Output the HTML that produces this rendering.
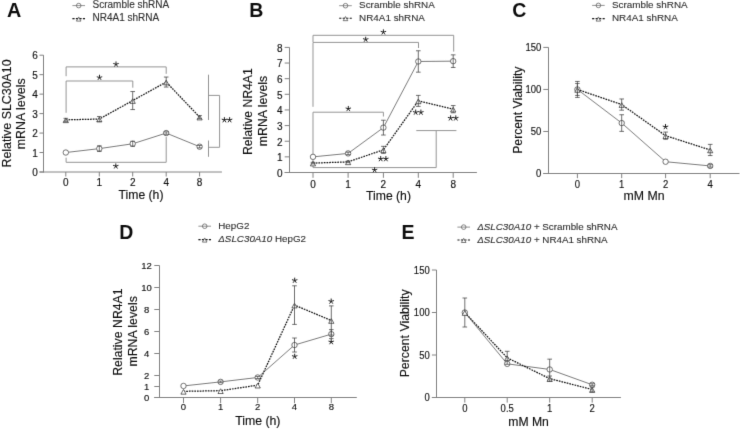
<!DOCTYPE html><html><head><meta charset="utf-8"><style>html,body{margin:0;padding:0;background:#fff;}svg{display:block;}</style></head><body><svg width="740" height="430" viewBox="0 0 740 430" font-family="Liberation Sans, sans-serif">
<defs><filter id="bl" x="-5%" y="-5%" width="110%" height="110%"><feConvolveMatrix order="3" kernelMatrix="0 1 0 1 8 1 0 1 0" preserveAlpha="false" edgeMode="none"/></filter></defs>
<rect width="740" height="430" fill="#fff"/>
<g filter="url(#bl)">
<text x="7.00" y="16.90" font-size="19.8" text-anchor="start" font-weight="bold" fill="#111"  >A</text>
<line x1="72.40" y1="5.60" x2="85.00" y2="5.60" stroke="#777" stroke-width="0.8" />
<circle cx="78.70" cy="5.60" r="2.3" fill="none" stroke="#666" stroke-width="0.8"/>
<line x1="72.40" y1="18.60" x2="85.00" y2="18.60" stroke="#141414" stroke-width="1.1" stroke-dasharray="2.2,1.3"/>
<polygon points="76.40,21.08 81.00,21.08 78.70,16.94" fill="none" stroke="#555" stroke-width="0.8"/>
<text x="92.50" y="8.20" font-size="10" text-anchor="start" font-weight="normal" fill="#303030" stroke="#303030" stroke-width="0.12" >Scramble shRNA</text>
<text x="92.50" y="21.20" font-size="10" text-anchor="start" font-weight="normal" fill="#303030" stroke="#303030" stroke-width="0.12" >NR4A1 shRNA</text>
<line x1="43.50" y1="55.20" x2="43.50" y2="172.50" stroke="#828282" stroke-width="1" />
<line x1="39.50" y1="172.00" x2="221.90" y2="172.00" stroke="#828282" stroke-width="1" />
<line x1="39.50" y1="172.00" x2="43.50" y2="172.00" stroke="#828282" stroke-width="1" />
<text x="37.90" y="176.00" font-size="10.0" text-anchor="end" font-weight="normal" fill="#0c0c0c" stroke="#0c0c0c" stroke-width="0.12" >0</text>
<line x1="39.50" y1="152.53" x2="43.50" y2="152.53" stroke="#828282" stroke-width="1" />
<text x="37.90" y="156.53" font-size="10.0" text-anchor="end" font-weight="normal" fill="#0c0c0c" stroke="#0c0c0c" stroke-width="0.12" >1</text>
<line x1="39.50" y1="133.07" x2="43.50" y2="133.07" stroke="#828282" stroke-width="1" />
<text x="37.90" y="137.07" font-size="10.0" text-anchor="end" font-weight="normal" fill="#0c0c0c" stroke="#0c0c0c" stroke-width="0.12" >2</text>
<line x1="39.50" y1="113.60" x2="43.50" y2="113.60" stroke="#828282" stroke-width="1" />
<text x="37.90" y="117.60" font-size="10.0" text-anchor="end" font-weight="normal" fill="#0c0c0c" stroke="#0c0c0c" stroke-width="0.12" >3</text>
<line x1="39.50" y1="94.13" x2="43.50" y2="94.13" stroke="#828282" stroke-width="1" />
<text x="37.90" y="98.13" font-size="10.0" text-anchor="end" font-weight="normal" fill="#0c0c0c" stroke="#0c0c0c" stroke-width="0.12" >4</text>
<line x1="39.50" y1="74.67" x2="43.50" y2="74.67" stroke="#828282" stroke-width="1" />
<text x="37.90" y="78.67" font-size="10.0" text-anchor="end" font-weight="normal" fill="#0c0c0c" stroke="#0c0c0c" stroke-width="0.12" >5</text>
<line x1="39.50" y1="55.20" x2="43.50" y2="55.20" stroke="#828282" stroke-width="1" />
<text x="37.90" y="59.20" font-size="10.0" text-anchor="end" font-weight="normal" fill="#0c0c0c" stroke="#0c0c0c" stroke-width="0.12" >6</text>
<line x1="65.80" y1="172.00" x2="65.80" y2="176.50" stroke="#828282" stroke-width="1" />
<text x="65.80" y="185.60" font-size="10.0" text-anchor="middle" font-weight="normal" fill="#0c0c0c" stroke="#0c0c0c" stroke-width="0.12" >0</text>
<line x1="99.30" y1="172.00" x2="99.30" y2="176.50" stroke="#828282" stroke-width="1" />
<text x="99.30" y="185.60" font-size="10.0" text-anchor="middle" font-weight="normal" fill="#0c0c0c" stroke="#0c0c0c" stroke-width="0.12" >1</text>
<line x1="132.70" y1="172.00" x2="132.70" y2="176.50" stroke="#828282" stroke-width="1" />
<text x="132.70" y="185.60" font-size="10.0" text-anchor="middle" font-weight="normal" fill="#0c0c0c" stroke="#0c0c0c" stroke-width="0.12" >2</text>
<line x1="166.20" y1="172.00" x2="166.20" y2="176.50" stroke="#828282" stroke-width="1" />
<text x="166.20" y="185.60" font-size="10.0" text-anchor="middle" font-weight="normal" fill="#0c0c0c" stroke="#0c0c0c" stroke-width="0.12" >4</text>
<line x1="199.60" y1="172.00" x2="199.60" y2="176.50" stroke="#828282" stroke-width="1" />
<text x="199.60" y="185.60" font-size="10.0" text-anchor="middle" font-weight="normal" fill="#0c0c0c" stroke="#0c0c0c" stroke-width="0.12" >8</text>
<text transform="translate(11.00,113.50) rotate(-90)" font-size="12.4" text-anchor="middle" fill="#0c0c0c" stroke="#0c0c0c" stroke-width="0.12">Relative SLC30A10</text>
<text transform="translate(25.00,113.80) rotate(-90)" font-size="12.4" text-anchor="middle" fill="#0c0c0c" stroke="#0c0c0c" stroke-width="0.12">mRNA levels</text>
<text x="141.00" y="198.50" font-size="12.2" text-anchor="middle" font-weight="normal" fill="#0c0c0c" stroke="#0c0c0c" stroke-width="0.12" >Time (h)</text>
<polyline points="66.10,76.20 66.10,66.90 166.20,66.90 166.20,73.80" fill="none" stroke="#959595" stroke-width="1" />
<polyline points="66.10,112.80 66.10,81.00 132.80,81.00 132.80,87.70" fill="none" stroke="#959595" stroke-width="1" />
<polyline points="66.10,157.70 66.10,162.30 166.20,162.30 166.20,137.00" fill="none" stroke="#959595" stroke-width="1" />
<path d="M116.00,64.30L116.00,61.85M116.00,64.30L118.33,63.54M116.00,64.30L117.44,66.28M116.00,64.30L114.56,66.28M116.00,64.30L113.67,63.54" stroke="#222" stroke-width="1.0" stroke-linecap="round" fill="none"/>
<path d="M99.50,77.60L99.50,75.15M99.50,77.60L101.83,76.84M99.50,77.60L100.94,79.58M99.50,77.60L98.06,79.58M99.50,77.60L97.17,76.84" stroke="#222" stroke-width="1.0" stroke-linecap="round" fill="none"/>
<path d="M115.80,166.20L115.80,163.75M115.80,166.20L118.13,165.44M115.80,166.20L117.24,168.18M115.80,166.20L114.36,168.18M115.80,166.20L113.47,165.44" stroke="#222" stroke-width="1.0" stroke-linecap="round" fill="none"/>
<polyline points="208.50,74.70 208.50,120.00" fill="none" stroke="#959595" stroke-width="1" />
<polyline points="208.50,95.40 219.60,95.40 219.60,147.30 208.50,147.30" fill="none" stroke="#959595" stroke-width="1" />
<polyline points="208.50,140.50 208.50,156.80" fill="none" stroke="#959595" stroke-width="1" />
<path d="M224.40,120.00L224.40,117.55M224.40,120.00L226.73,119.24M224.40,120.00L225.84,121.98M224.40,120.00L222.96,121.98M224.40,120.00L222.07,119.24" stroke="#222" stroke-width="1.0" stroke-linecap="round" fill="none"/>
<path d="M229.60,120.00L229.60,117.55M229.60,120.00L231.93,119.24M229.60,120.00L231.04,121.98M229.60,120.00L228.16,121.98M229.60,120.00L227.27,119.24" stroke="#222" stroke-width="1.0" stroke-linecap="round" fill="none"/>
<polyline points="65.80,152.53 99.30,148.64 132.70,143.77 166.20,133.07 199.60,146.69" fill="none" stroke="#5a5a5a" stroke-width="0.8" />
<circle cx="65.80" cy="152.53" r="2.7" fill="#fff" stroke="#444" stroke-width="0.8"/>
<circle cx="99.30" cy="148.64" r="2.7" fill="#fff" stroke="#444" stroke-width="0.8"/>
<circle cx="132.70" cy="143.77" r="2.7" fill="#fff" stroke="#444" stroke-width="0.8"/>
<circle cx="166.20" cy="133.07" r="2.7" fill="#fff" stroke="#444" stroke-width="0.8"/>
<circle cx="199.60" cy="146.69" r="2.7" fill="#fff" stroke="#444" stroke-width="0.8"/>
<line x1="99.30" y1="145.84" x2="99.30" y2="151.44" stroke="#4a4a4a" stroke-width="0.8" />
<line x1="97.00" y1="145.84" x2="101.60" y2="145.84" stroke="#4a4a4a" stroke-width="0.8" />
<line x1="97.00" y1="151.44" x2="101.60" y2="151.44" stroke="#4a4a4a" stroke-width="0.8" />
<line x1="132.70" y1="141.27" x2="132.70" y2="146.27" stroke="#4a4a4a" stroke-width="0.8" />
<line x1="130.40" y1="141.27" x2="135.00" y2="141.27" stroke="#4a4a4a" stroke-width="0.8" />
<line x1="130.40" y1="146.27" x2="135.00" y2="146.27" stroke="#4a4a4a" stroke-width="0.8" />
<line x1="166.20" y1="131.87" x2="166.20" y2="134.27" stroke="#4a4a4a" stroke-width="0.8" />
<line x1="163.90" y1="131.87" x2="168.50" y2="131.87" stroke="#4a4a4a" stroke-width="0.8" />
<line x1="163.90" y1="134.27" x2="168.50" y2="134.27" stroke="#4a4a4a" stroke-width="0.8" />
<line x1="199.60" y1="145.49" x2="199.60" y2="147.89" stroke="#4a4a4a" stroke-width="0.8" />
<line x1="197.30" y1="145.49" x2="201.90" y2="145.49" stroke="#4a4a4a" stroke-width="0.8" />
<line x1="197.30" y1="147.89" x2="201.90" y2="147.89" stroke="#4a4a4a" stroke-width="0.8" />
<polyline points="65.80,119.83 99.30,119.05 132.70,100.56 166.20,82.06 199.60,117.10" fill="none" stroke="#141414" stroke-width="1.25" stroke-dasharray="1.7,1.0"/>
<polygon points="63.20,122.64 68.40,122.64 65.80,117.96" fill="#fff" stroke="#333" stroke-width="0.8"/>
<polygon points="96.70,121.86 101.90,121.86 99.30,117.18" fill="#fff" stroke="#333" stroke-width="0.8"/>
<polygon points="130.10,103.37 135.30,103.37 132.70,98.69" fill="#fff" stroke="#333" stroke-width="0.8"/>
<polygon points="163.60,84.87 168.80,84.87 166.20,80.19" fill="#fff" stroke="#333" stroke-width="0.8"/>
<polygon points="197.00,119.91 202.20,119.91 199.60,115.23" fill="#fff" stroke="#333" stroke-width="0.8"/>
<line x1="65.80" y1="118.33" x2="65.80" y2="121.33" stroke="#4a4a4a" stroke-width="0.8" />
<line x1="63.50" y1="118.33" x2="68.10" y2="118.33" stroke="#4a4a4a" stroke-width="0.8" />
<line x1="63.50" y1="121.33" x2="68.10" y2="121.33" stroke="#4a4a4a" stroke-width="0.8" />
<line x1="99.30" y1="116.55" x2="99.30" y2="121.55" stroke="#4a4a4a" stroke-width="0.8" />
<line x1="97.00" y1="116.55" x2="101.60" y2="116.55" stroke="#4a4a4a" stroke-width="0.8" />
<line x1="97.00" y1="121.55" x2="101.60" y2="121.55" stroke="#4a4a4a" stroke-width="0.8" />
<line x1="132.70" y1="91.56" x2="132.70" y2="109.56" stroke="#4a4a4a" stroke-width="0.8" />
<line x1="130.40" y1="91.56" x2="135.00" y2="91.56" stroke="#4a4a4a" stroke-width="0.8" />
<line x1="130.40" y1="109.56" x2="135.00" y2="109.56" stroke="#4a4a4a" stroke-width="0.8" />
<line x1="166.20" y1="77.06" x2="166.20" y2="87.06" stroke="#4a4a4a" stroke-width="0.8" />
<line x1="163.90" y1="77.06" x2="168.50" y2="77.06" stroke="#4a4a4a" stroke-width="0.8" />
<line x1="163.90" y1="87.06" x2="168.50" y2="87.06" stroke="#4a4a4a" stroke-width="0.8" />
<line x1="199.60" y1="115.60" x2="199.60" y2="118.60" stroke="#4a4a4a" stroke-width="0.8" />
<line x1="197.30" y1="115.60" x2="201.90" y2="115.60" stroke="#4a4a4a" stroke-width="0.8" />
<line x1="197.30" y1="118.60" x2="201.90" y2="118.60" stroke="#4a4a4a" stroke-width="0.8" />
<text x="249.30" y="16.90" font-size="19.5" text-anchor="start" font-weight="bold" fill="#111"  >B</text>
<line x1="339.20" y1="5.70" x2="351.80" y2="5.70" stroke="#777" stroke-width="0.8" />
<circle cx="345.50" cy="5.70" r="2.3" fill="none" stroke="#666" stroke-width="0.8"/>
<line x1="339.20" y1="18.20" x2="351.80" y2="18.20" stroke="#141414" stroke-width="1.1" stroke-dasharray="2.2,1.3"/>
<polygon points="343.20,20.68 347.80,20.68 345.50,16.54" fill="none" stroke="#555" stroke-width="0.8"/>
<text x="359.10" y="7.80" font-size="9.9" text-anchor="start" font-weight="normal" fill="#303030" stroke="#303030" stroke-width="0.12" >Scramble shRNA</text>
<text x="359.10" y="21.00" font-size="9.9" text-anchor="start" font-weight="normal" fill="#303030" stroke="#303030" stroke-width="0.12" >NR4A1 shRNA</text>
<line x1="289.50" y1="47.40" x2="289.50" y2="173.00" stroke="#828282" stroke-width="1" />
<line x1="284.70" y1="172.50" x2="476.90" y2="172.50" stroke="#828282" stroke-width="1" />
<line x1="284.70" y1="172.50" x2="289.50" y2="172.50" stroke="#828282" stroke-width="1" />
<text x="282.50" y="176.80" font-size="10.0" text-anchor="end" font-weight="normal" fill="#0c0c0c" stroke="#0c0c0c" stroke-width="0.12" >0</text>
<line x1="284.70" y1="156.86" x2="289.50" y2="156.86" stroke="#828282" stroke-width="1" />
<text x="282.50" y="161.16" font-size="10.0" text-anchor="end" font-weight="normal" fill="#0c0c0c" stroke="#0c0c0c" stroke-width="0.12" >1</text>
<line x1="284.70" y1="141.22" x2="289.50" y2="141.22" stroke="#828282" stroke-width="1" />
<text x="282.50" y="145.53" font-size="10.0" text-anchor="end" font-weight="normal" fill="#0c0c0c" stroke="#0c0c0c" stroke-width="0.12" >2</text>
<line x1="284.70" y1="125.59" x2="289.50" y2="125.59" stroke="#828282" stroke-width="1" />
<text x="282.50" y="129.89" font-size="10.0" text-anchor="end" font-weight="normal" fill="#0c0c0c" stroke="#0c0c0c" stroke-width="0.12" >3</text>
<line x1="284.70" y1="109.95" x2="289.50" y2="109.95" stroke="#828282" stroke-width="1" />
<text x="282.50" y="114.25" font-size="10.0" text-anchor="end" font-weight="normal" fill="#0c0c0c" stroke="#0c0c0c" stroke-width="0.12" >4</text>
<line x1="284.70" y1="94.31" x2="289.50" y2="94.31" stroke="#828282" stroke-width="1" />
<text x="282.50" y="98.61" font-size="10.0" text-anchor="end" font-weight="normal" fill="#0c0c0c" stroke="#0c0c0c" stroke-width="0.12" >5</text>
<line x1="284.70" y1="78.68" x2="289.50" y2="78.68" stroke="#828282" stroke-width="1" />
<text x="282.50" y="82.98" font-size="10.0" text-anchor="end" font-weight="normal" fill="#0c0c0c" stroke="#0c0c0c" stroke-width="0.12" >6</text>
<line x1="284.70" y1="63.04" x2="289.50" y2="63.04" stroke="#828282" stroke-width="1" />
<text x="282.50" y="67.34" font-size="10.0" text-anchor="end" font-weight="normal" fill="#0c0c0c" stroke="#0c0c0c" stroke-width="0.12" >7</text>
<line x1="284.70" y1="47.40" x2="289.50" y2="47.40" stroke="#828282" stroke-width="1" />
<text x="282.50" y="51.70" font-size="10.0" text-anchor="end" font-weight="normal" fill="#0c0c0c" stroke="#0c0c0c" stroke-width="0.12" >8</text>
<line x1="313.00" y1="172.50" x2="313.00" y2="177.80" stroke="#828282" stroke-width="1" />
<text x="313.00" y="187.60" font-size="10.0" text-anchor="middle" font-weight="normal" fill="#0c0c0c" stroke="#0c0c0c" stroke-width="0.12" >0</text>
<line x1="348.10" y1="172.50" x2="348.10" y2="177.80" stroke="#828282" stroke-width="1" />
<text x="348.10" y="187.60" font-size="10.0" text-anchor="middle" font-weight="normal" fill="#0c0c0c" stroke="#0c0c0c" stroke-width="0.12" >1</text>
<line x1="383.40" y1="172.50" x2="383.40" y2="177.80" stroke="#828282" stroke-width="1" />
<text x="383.40" y="187.60" font-size="10.0" text-anchor="middle" font-weight="normal" fill="#0c0c0c" stroke="#0c0c0c" stroke-width="0.12" >2</text>
<line x1="418.30" y1="172.50" x2="418.30" y2="177.80" stroke="#828282" stroke-width="1" />
<text x="418.30" y="187.60" font-size="10.0" text-anchor="middle" font-weight="normal" fill="#0c0c0c" stroke="#0c0c0c" stroke-width="0.12" >4</text>
<line x1="453.20" y1="172.50" x2="453.20" y2="177.80" stroke="#828282" stroke-width="1" />
<text x="453.20" y="187.60" font-size="10.0" text-anchor="middle" font-weight="normal" fill="#0c0c0c" stroke="#0c0c0c" stroke-width="0.12" >8</text>
<text transform="translate(252.30,111.60) rotate(-90)" font-size="12.2" text-anchor="middle" fill="#0c0c0c" stroke="#0c0c0c" stroke-width="0.12">Relative NR4A1</text>
<text transform="translate(266.80,111.00) rotate(-90)" font-size="12.3" text-anchor="middle" fill="#0c0c0c" stroke="#0c0c0c" stroke-width="0.12">mRNA levels</text>
<text x="388.50" y="200.40" font-size="12.2" text-anchor="middle" font-weight="normal" fill="#0c0c0c" stroke="#0c0c0c" stroke-width="0.12" >Time (h)</text>
<polyline points="313.00,42.00 313.00,35.30 453.70,35.30 453.70,51.60" fill="none" stroke="#959595" stroke-width="1" />
<polyline points="313.00,106.80 313.00,42.40 418.50,42.40 418.50,48.00" fill="none" stroke="#959595" stroke-width="1" />
<polyline points="313.00,154.00 313.00,112.20 383.40,112.20 383.40,116.50" fill="none" stroke="#959595" stroke-width="1" />
<polyline points="313.00,160.00 313.00,167.60 436.20,167.60 436.20,130.60" fill="none" stroke="#959595" stroke-width="1" />
<polyline points="416.30,130.60 456.40,130.60" fill="none" stroke="#959595" stroke-width="1" />
<path d="M383.40,32.20L383.40,29.75M383.40,32.20L385.73,31.44M383.40,32.20L384.84,34.18M383.40,32.20L381.96,34.18M383.40,32.20L381.07,31.44" stroke="#222" stroke-width="1.0" stroke-linecap="round" fill="none"/>
<path d="M365.70,39.50L365.70,37.05M365.70,39.50L368.03,38.74M365.70,39.50L367.14,41.48M365.70,39.50L364.26,41.48M365.70,39.50L363.37,38.74" stroke="#222" stroke-width="1.0" stroke-linecap="round" fill="none"/>
<path d="M348.30,108.80L348.30,106.35M348.30,108.80L350.63,108.04M348.30,108.80L349.74,110.78M348.30,108.80L346.86,110.78M348.30,108.80L345.97,108.04" stroke="#222" stroke-width="1.0" stroke-linecap="round" fill="none"/>
<path d="M374.60,170.00L374.60,167.55M374.60,170.00L376.93,169.24M374.60,170.00L376.04,171.98M374.60,170.00L373.16,171.98M374.60,170.00L372.27,169.24" stroke="#222" stroke-width="1.0" stroke-linecap="round" fill="none"/>
<path d="M380.70,158.90L380.70,156.45M380.70,158.90L383.03,158.14M380.70,158.90L382.14,160.88M380.70,158.90L379.26,160.88M380.70,158.90L378.37,158.14" stroke="#222" stroke-width="1.0" stroke-linecap="round" fill="none"/>
<path d="M385.90,158.90L385.90,156.45M385.90,158.90L388.23,158.14M385.90,158.90L387.34,160.88M385.90,158.90L384.46,160.88M385.90,158.90L383.57,158.14" stroke="#222" stroke-width="1.0" stroke-linecap="round" fill="none"/>
<path d="M415.70,112.40L415.70,109.95M415.70,112.40L418.03,111.64M415.70,112.40L417.14,114.38M415.70,112.40L414.26,114.38M415.70,112.40L413.37,111.64" stroke="#222" stroke-width="1.0" stroke-linecap="round" fill="none"/>
<path d="M420.90,112.40L420.90,109.95M420.90,112.40L423.23,111.64M420.90,112.40L422.34,114.38M420.90,112.40L419.46,114.38M420.90,112.40L418.57,111.64" stroke="#222" stroke-width="1.0" stroke-linecap="round" fill="none"/>
<path d="M450.60,118.20L450.60,115.75M450.60,118.20L452.93,117.44M450.60,118.20L452.04,120.18M450.60,118.20L449.16,120.18M450.60,118.20L448.27,117.44" stroke="#222" stroke-width="1.0" stroke-linecap="round" fill="none"/>
<path d="M455.80,118.20L455.80,115.75M455.80,118.20L458.13,117.44M455.80,118.20L457.24,120.18M455.80,118.20L454.36,120.18M455.80,118.20L453.47,117.44" stroke="#222" stroke-width="1.0" stroke-linecap="round" fill="none"/>
<polyline points="313.00,156.86 348.10,153.42 383.40,127.62 418.30,61.47 453.20,61.16" fill="none" stroke="#5a5a5a" stroke-width="0.8" />
<circle cx="313.00" cy="156.86" r="2.7" fill="#fff" stroke="#444" stroke-width="0.8"/>
<circle cx="348.10" cy="153.42" r="2.7" fill="#fff" stroke="#444" stroke-width="0.8"/>
<circle cx="383.40" cy="127.62" r="2.7" fill="#fff" stroke="#444" stroke-width="0.8"/>
<circle cx="418.30" cy="61.47" r="2.7" fill="#fff" stroke="#444" stroke-width="0.8"/>
<circle cx="453.20" cy="61.16" r="2.7" fill="#fff" stroke="#444" stroke-width="0.8"/>
<line x1="348.10" y1="152.22" x2="348.10" y2="154.62" stroke="#4a4a4a" stroke-width="0.8" />
<line x1="345.80" y1="152.22" x2="350.40" y2="152.22" stroke="#4a4a4a" stroke-width="0.8" />
<line x1="345.80" y1="154.62" x2="350.40" y2="154.62" stroke="#4a4a4a" stroke-width="0.8" />
<line x1="383.40" y1="120.22" x2="383.40" y2="135.02" stroke="#4a4a4a" stroke-width="0.8" />
<line x1="381.10" y1="120.22" x2="385.70" y2="120.22" stroke="#4a4a4a" stroke-width="0.8" />
<line x1="381.10" y1="135.02" x2="385.70" y2="135.02" stroke="#4a4a4a" stroke-width="0.8" />
<line x1="418.30" y1="50.77" x2="418.30" y2="72.17" stroke="#4a4a4a" stroke-width="0.8" />
<line x1="416.00" y1="50.77" x2="420.60" y2="50.77" stroke="#4a4a4a" stroke-width="0.8" />
<line x1="416.00" y1="72.17" x2="420.60" y2="72.17" stroke="#4a4a4a" stroke-width="0.8" />
<line x1="453.20" y1="54.86" x2="453.20" y2="67.46" stroke="#4a4a4a" stroke-width="0.8" />
<line x1="450.90" y1="54.86" x2="455.50" y2="54.86" stroke="#4a4a4a" stroke-width="0.8" />
<line x1="450.90" y1="67.46" x2="455.50" y2="67.46" stroke="#4a4a4a" stroke-width="0.8" />
<polyline points="313.00,163.12 348.10,161.87 383.40,149.83 418.30,100.88 453.20,109.17" fill="none" stroke="#141414" stroke-width="1.25" stroke-dasharray="1.7,1.0"/>
<polygon points="310.40,165.93 315.60,165.93 313.00,161.25" fill="#fff" stroke="#333" stroke-width="0.8"/>
<polygon points="345.50,164.67 350.70,164.67 348.10,159.99" fill="#fff" stroke="#333" stroke-width="0.8"/>
<polygon points="380.80,152.63 386.00,152.63 383.40,147.95" fill="#fff" stroke="#333" stroke-width="0.8"/>
<polygon points="415.70,103.69 420.90,103.69 418.30,99.01" fill="#fff" stroke="#333" stroke-width="0.8"/>
<polygon points="450.60,111.98 455.80,111.98 453.20,107.30" fill="#fff" stroke="#333" stroke-width="0.8"/>
<line x1="313.00" y1="162.32" x2="313.00" y2="163.92" stroke="#4a4a4a" stroke-width="0.8" />
<line x1="310.70" y1="162.32" x2="315.30" y2="162.32" stroke="#4a4a4a" stroke-width="0.8" />
<line x1="310.70" y1="163.92" x2="315.30" y2="163.92" stroke="#4a4a4a" stroke-width="0.8" />
<line x1="348.10" y1="161.07" x2="348.10" y2="162.67" stroke="#4a4a4a" stroke-width="0.8" />
<line x1="345.80" y1="161.07" x2="350.40" y2="161.07" stroke="#4a4a4a" stroke-width="0.8" />
<line x1="345.80" y1="162.67" x2="350.40" y2="162.67" stroke="#4a4a4a" stroke-width="0.8" />
<line x1="383.40" y1="146.33" x2="383.40" y2="153.33" stroke="#4a4a4a" stroke-width="0.8" />
<line x1="381.10" y1="146.33" x2="385.70" y2="146.33" stroke="#4a4a4a" stroke-width="0.8" />
<line x1="381.10" y1="153.33" x2="385.70" y2="153.33" stroke="#4a4a4a" stroke-width="0.8" />
<line x1="418.30" y1="95.38" x2="418.30" y2="106.38" stroke="#4a4a4a" stroke-width="0.8" />
<line x1="416.00" y1="95.38" x2="420.60" y2="95.38" stroke="#4a4a4a" stroke-width="0.8" />
<line x1="416.00" y1="106.38" x2="420.60" y2="106.38" stroke="#4a4a4a" stroke-width="0.8" />
<line x1="453.20" y1="105.57" x2="453.20" y2="112.77" stroke="#4a4a4a" stroke-width="0.8" />
<line x1="450.90" y1="105.57" x2="455.50" y2="105.57" stroke="#4a4a4a" stroke-width="0.8" />
<line x1="450.90" y1="112.77" x2="455.50" y2="112.77" stroke="#4a4a4a" stroke-width="0.8" />
<text x="512.30" y="16.70" font-size="19.5" text-anchor="start" font-weight="bold" fill="#111"  >C</text>
<line x1="592.10" y1="5.40" x2="604.70" y2="5.40" stroke="#777" stroke-width="0.8" />
<circle cx="598.40" cy="5.40" r="2.3" fill="none" stroke="#666" stroke-width="0.8"/>
<line x1="592.10" y1="18.60" x2="604.70" y2="18.60" stroke="#141414" stroke-width="1.1" stroke-dasharray="2.2,1.3"/>
<polygon points="596.10,21.08 600.70,21.08 598.40,16.94" fill="none" stroke="#555" stroke-width="0.8"/>
<text x="611.90" y="7.80" font-size="9.9" text-anchor="start" font-weight="normal" fill="#303030" stroke="#303030" stroke-width="0.12" >Scramble shRNA</text>
<text x="611.90" y="21.00" font-size="9.9" text-anchor="start" font-weight="normal" fill="#303030" stroke="#303030" stroke-width="0.12" >NR4A1 shRNA</text>
<line x1="548.50" y1="47.40" x2="548.50" y2="174.00" stroke="#828282" stroke-width="1" />
<line x1="543.30" y1="173.50" x2="739.50" y2="173.50" stroke="#828282" stroke-width="1" />
<line x1="543.30" y1="173.50" x2="548.50" y2="173.50" stroke="#828282" stroke-width="1" />
<text transform="translate(541.40,177.40) scale(0.88,1)" font-size="10.8" text-anchor="end" font-weight="normal" fill="#0c0c0c" stroke="#0c0c0c" stroke-width="0.12" >0</text>
<line x1="543.30" y1="131.47" x2="548.50" y2="131.47" stroke="#828282" stroke-width="1" />
<text transform="translate(541.40,135.37) scale(0.88,1)" font-size="10.8" text-anchor="end" font-weight="normal" fill="#0c0c0c" stroke="#0c0c0c" stroke-width="0.12" >50</text>
<line x1="543.30" y1="89.43" x2="548.50" y2="89.43" stroke="#828282" stroke-width="1" />
<text transform="translate(541.40,93.33) scale(0.88,1)" font-size="10.8" text-anchor="end" font-weight="normal" fill="#0c0c0c" stroke="#0c0c0c" stroke-width="0.12" >100</text>
<line x1="543.30" y1="47.40" x2="548.50" y2="47.40" stroke="#828282" stroke-width="1" />
<text transform="translate(541.40,51.30) scale(0.88,1)" font-size="10.8" text-anchor="end" font-weight="normal" fill="#0c0c0c" stroke="#0c0c0c" stroke-width="0.12" >150</text>
<line x1="577.40" y1="173.50" x2="577.40" y2="178.20" stroke="#828282" stroke-width="1" />
<text transform="translate(577.40,187.60) scale(0.88,1)" font-size="10.8" text-anchor="middle" font-weight="normal" fill="#0c0c0c" stroke="#0c0c0c" stroke-width="0.12" >0</text>
<line x1="621.70" y1="173.50" x2="621.70" y2="178.20" stroke="#828282" stroke-width="1" />
<text transform="translate(621.70,187.60) scale(0.88,1)" font-size="10.8" text-anchor="middle" font-weight="normal" fill="#0c0c0c" stroke="#0c0c0c" stroke-width="0.12" >1</text>
<line x1="665.60" y1="173.50" x2="665.60" y2="178.20" stroke="#828282" stroke-width="1" />
<text transform="translate(665.60,187.60) scale(0.88,1)" font-size="10.8" text-anchor="middle" font-weight="normal" fill="#0c0c0c" stroke="#0c0c0c" stroke-width="0.12" >2</text>
<line x1="710.20" y1="173.50" x2="710.20" y2="178.20" stroke="#828282" stroke-width="1" />
<text transform="translate(710.20,187.60) scale(0.88,1)" font-size="10.8" text-anchor="middle" font-weight="normal" fill="#0c0c0c" stroke="#0c0c0c" stroke-width="0.12" >4</text>
<text transform="translate(521.60,110.20) rotate(-90)" font-size="12.2" text-anchor="middle" fill="#0c0c0c" stroke="#0c0c0c" stroke-width="0.12">Percent Viability</text>
<text x="644.00" y="199.80" font-size="12.3" text-anchor="middle" font-weight="normal" fill="#0c0c0c" stroke="#0c0c0c" stroke-width="0.12" >mM Mn</text>
<path d="M665.50,126.90L665.50,124.45M665.50,126.90L667.83,126.14M665.50,126.90L666.94,128.88M665.50,126.90L664.06,128.88M665.50,126.90L663.17,126.14" stroke="#222" stroke-width="1.0" stroke-linecap="round" fill="none"/>
<polyline points="577.40,89.43 621.70,123.06 665.60,161.73 710.20,165.93" fill="none" stroke="#5a5a5a" stroke-width="0.8" />
<circle cx="577.40" cy="89.43" r="2.7" fill="#fff" stroke="#444" stroke-width="0.8"/>
<circle cx="621.70" cy="123.06" r="2.7" fill="#fff" stroke="#444" stroke-width="0.8"/>
<circle cx="665.60" cy="161.73" r="2.7" fill="#fff" stroke="#444" stroke-width="0.8"/>
<circle cx="710.20" cy="165.93" r="2.7" fill="#fff" stroke="#444" stroke-width="0.8"/>
<line x1="577.40" y1="81.43" x2="577.40" y2="97.43" stroke="#4a4a4a" stroke-width="0.8" />
<line x1="575.10" y1="81.43" x2="579.70" y2="81.43" stroke="#4a4a4a" stroke-width="0.8" />
<line x1="575.10" y1="97.43" x2="579.70" y2="97.43" stroke="#4a4a4a" stroke-width="0.8" />
<line x1="621.70" y1="114.76" x2="621.70" y2="131.36" stroke="#4a4a4a" stroke-width="0.8" />
<line x1="619.40" y1="114.76" x2="624.00" y2="114.76" stroke="#4a4a4a" stroke-width="0.8" />
<line x1="619.40" y1="131.36" x2="624.00" y2="131.36" stroke="#4a4a4a" stroke-width="0.8" />
<line x1="710.20" y1="164.73" x2="710.20" y2="167.13" stroke="#4a4a4a" stroke-width="0.8" />
<line x1="707.90" y1="164.73" x2="712.50" y2="164.73" stroke="#4a4a4a" stroke-width="0.8" />
<line x1="707.90" y1="167.13" x2="712.50" y2="167.13" stroke="#4a4a4a" stroke-width="0.8" />
<polyline points="577.40,89.43 621.70,104.57 665.60,135.67 710.20,149.96" fill="none" stroke="#141414" stroke-width="1.25" stroke-dasharray="1.7,1.0"/>
<polygon points="574.80,92.24 580.00,92.24 577.40,87.56" fill="#fff" stroke="#333" stroke-width="0.8"/>
<polygon points="619.10,107.37 624.30,107.37 621.70,102.69" fill="#fff" stroke="#333" stroke-width="0.8"/>
<polygon points="663.00,138.48 668.20,138.48 665.60,133.80" fill="#fff" stroke="#333" stroke-width="0.8"/>
<polygon points="707.60,152.77 712.80,152.77 710.20,148.09" fill="#fff" stroke="#333" stroke-width="0.8"/>
<line x1="577.40" y1="83.43" x2="577.40" y2="95.43" stroke="#4a4a4a" stroke-width="0.8" />
<line x1="575.10" y1="83.43" x2="579.70" y2="83.43" stroke="#4a4a4a" stroke-width="0.8" />
<line x1="575.10" y1="95.43" x2="579.70" y2="95.43" stroke="#4a4a4a" stroke-width="0.8" />
<line x1="621.70" y1="98.97" x2="621.70" y2="110.17" stroke="#4a4a4a" stroke-width="0.8" />
<line x1="619.40" y1="98.97" x2="624.00" y2="98.97" stroke="#4a4a4a" stroke-width="0.8" />
<line x1="619.40" y1="110.17" x2="624.00" y2="110.17" stroke="#4a4a4a" stroke-width="0.8" />
<line x1="665.60" y1="132.07" x2="665.60" y2="139.27" stroke="#4a4a4a" stroke-width="0.8" />
<line x1="663.30" y1="132.07" x2="667.90" y2="132.07" stroke="#4a4a4a" stroke-width="0.8" />
<line x1="663.30" y1="139.27" x2="667.90" y2="139.27" stroke="#4a4a4a" stroke-width="0.8" />
<line x1="710.20" y1="144.36" x2="710.20" y2="155.56" stroke="#4a4a4a" stroke-width="0.8" />
<line x1="707.90" y1="144.36" x2="712.50" y2="144.36" stroke="#4a4a4a" stroke-width="0.8" />
<line x1="707.90" y1="155.56" x2="712.50" y2="155.56" stroke="#4a4a4a" stroke-width="0.8" />
<text x="119.20" y="238.70" font-size="19.5" text-anchor="start" font-weight="bold" fill="#111"  >D</text>
<line x1="198.40" y1="226.20" x2="211.00" y2="226.20" stroke="#777" stroke-width="0.8" />
<circle cx="204.70" cy="226.20" r="2.3" fill="none" stroke="#666" stroke-width="0.8"/>
<line x1="198.40" y1="239.60" x2="211.00" y2="239.60" stroke="#141414" stroke-width="1.1" stroke-dasharray="2.2,1.3"/>
<polygon points="202.40,242.08 207.00,242.08 204.70,237.94" fill="none" stroke="#555" stroke-width="0.8"/>
<text x="218.30" y="228.50" font-size="9.8" text-anchor="start" font-weight="normal" fill="#303030" stroke="#303030" stroke-width="0.12" >HepG2</text>
<text x="218.30" y="242.10" font-size="9.8" text-anchor="start" font-weight="normal" fill="#303030" stroke="#303030" stroke-width="0.12" ><tspan font-style="italic">ΔSLC30A10</tspan> HepG2</text>
<line x1="159.50" y1="265.50" x2="159.50" y2="398.00" stroke="#828282" stroke-width="1" />
<line x1="154.30" y1="397.50" x2="356.80" y2="397.50" stroke="#828282" stroke-width="1" />
<line x1="154.30" y1="397.50" x2="159.50" y2="397.50" stroke="#828282" stroke-width="1" />
<text x="146.60" y="401.10" font-size="9.5" text-anchor="middle" font-weight="normal" fill="#0c0c0c" stroke="#0c0c0c" stroke-width="0.12" >0</text>
<line x1="154.30" y1="386.50" x2="159.50" y2="386.50" stroke="#828282" stroke-width="1" />
<text x="146.60" y="390.10" font-size="9.5" text-anchor="middle" font-weight="normal" fill="#0c0c0c" stroke="#0c0c0c" stroke-width="0.12" >1</text>
<line x1="154.30" y1="375.50" x2="159.50" y2="375.50" stroke="#828282" stroke-width="1" />
<text x="146.60" y="379.10" font-size="9.5" text-anchor="middle" font-weight="normal" fill="#0c0c0c" stroke="#0c0c0c" stroke-width="0.12" >2</text>
<line x1="154.30" y1="353.50" x2="159.50" y2="353.50" stroke="#828282" stroke-width="1" />
<text x="146.60" y="357.10" font-size="9.5" text-anchor="middle" font-weight="normal" fill="#0c0c0c" stroke="#0c0c0c" stroke-width="0.12" >4</text>
<line x1="154.30" y1="331.50" x2="159.50" y2="331.50" stroke="#828282" stroke-width="1" />
<text x="146.60" y="335.10" font-size="9.5" text-anchor="middle" font-weight="normal" fill="#0c0c0c" stroke="#0c0c0c" stroke-width="0.12" >6</text>
<line x1="154.30" y1="309.50" x2="159.50" y2="309.50" stroke="#828282" stroke-width="1" />
<text x="146.60" y="313.10" font-size="9.5" text-anchor="middle" font-weight="normal" fill="#0c0c0c" stroke="#0c0c0c" stroke-width="0.12" >8</text>
<line x1="154.30" y1="287.50" x2="159.50" y2="287.50" stroke="#828282" stroke-width="1" />
<text x="146.60" y="291.10" font-size="9.5" text-anchor="middle" font-weight="normal" fill="#0c0c0c" stroke="#0c0c0c" stroke-width="0.12" >10</text>
<line x1="154.30" y1="265.50" x2="159.50" y2="265.50" stroke="#828282" stroke-width="1" />
<text x="146.60" y="269.10" font-size="9.5" text-anchor="middle" font-weight="normal" fill="#0c0c0c" stroke="#0c0c0c" stroke-width="0.12" >12</text>
<line x1="183.50" y1="397.50" x2="183.50" y2="403.20" stroke="#828282" stroke-width="1" />
<text x="183.50" y="410.30" font-size="9.5" text-anchor="middle" font-weight="normal" fill="#0c0c0c" stroke="#0c0c0c" stroke-width="0.12" >0</text>
<line x1="220.60" y1="397.50" x2="220.60" y2="403.20" stroke="#828282" stroke-width="1" />
<text x="220.60" y="410.30" font-size="9.5" text-anchor="middle" font-weight="normal" fill="#0c0c0c" stroke="#0c0c0c" stroke-width="0.12" >1</text>
<line x1="257.70" y1="397.50" x2="257.70" y2="403.20" stroke="#828282" stroke-width="1" />
<text x="257.70" y="410.30" font-size="9.5" text-anchor="middle" font-weight="normal" fill="#0c0c0c" stroke="#0c0c0c" stroke-width="0.12" >2</text>
<line x1="294.50" y1="397.50" x2="294.50" y2="403.20" stroke="#828282" stroke-width="1" />
<text x="294.50" y="410.30" font-size="9.5" text-anchor="middle" font-weight="normal" fill="#0c0c0c" stroke="#0c0c0c" stroke-width="0.12" >4</text>
<line x1="331.30" y1="397.50" x2="331.30" y2="403.20" stroke="#828282" stroke-width="1" />
<text x="331.30" y="410.30" font-size="9.5" text-anchor="middle" font-weight="normal" fill="#0c0c0c" stroke="#0c0c0c" stroke-width="0.12" >8</text>
<text transform="translate(121.80,332.10) rotate(-90)" font-size="12.3" text-anchor="middle" fill="#0c0c0c" stroke="#0c0c0c" stroke-width="0.12">Relative NR4A1</text>
<text transform="translate(137.40,331.40) rotate(-90)" font-size="12.3" text-anchor="middle" fill="#0c0c0c" stroke="#0c0c0c" stroke-width="0.12">mRNA levels</text>
<text x="257.80" y="424.60" font-size="12.3" text-anchor="middle" font-weight="normal" fill="#0c0c0c" stroke="#0c0c0c" stroke-width="0.12" >Time (h)</text>
<polyline points="183.50,385.95 220.60,381.88 257.70,377.48 294.50,345.03 331.30,334.14" fill="none" stroke="#5a5a5a" stroke-width="0.8" />
<circle cx="183.50" cy="385.95" r="2.7" fill="#fff" stroke="#444" stroke-width="0.8"/>
<circle cx="220.60" cy="381.88" r="2.7" fill="#fff" stroke="#444" stroke-width="0.8"/>
<circle cx="257.70" cy="377.48" r="2.7" fill="#fff" stroke="#444" stroke-width="0.8"/>
<circle cx="294.50" cy="345.03" r="2.7" fill="#fff" stroke="#444" stroke-width="0.8"/>
<circle cx="331.30" cy="334.14" r="2.7" fill="#fff" stroke="#444" stroke-width="0.8"/>
<line x1="220.60" y1="381.08" x2="220.60" y2="382.68" stroke="#4a4a4a" stroke-width="0.8" />
<line x1="218.30" y1="381.08" x2="222.90" y2="381.08" stroke="#4a4a4a" stroke-width="0.8" />
<line x1="218.30" y1="382.68" x2="222.90" y2="382.68" stroke="#4a4a4a" stroke-width="0.8" />
<line x1="257.70" y1="376.48" x2="257.70" y2="378.48" stroke="#4a4a4a" stroke-width="0.8" />
<line x1="255.40" y1="376.48" x2="260.00" y2="376.48" stroke="#4a4a4a" stroke-width="0.8" />
<line x1="255.40" y1="378.48" x2="260.00" y2="378.48" stroke="#4a4a4a" stroke-width="0.8" />
<line x1="294.50" y1="338.03" x2="294.50" y2="352.03" stroke="#4a4a4a" stroke-width="0.8" />
<line x1="292.20" y1="338.03" x2="296.80" y2="338.03" stroke="#4a4a4a" stroke-width="0.8" />
<line x1="292.20" y1="352.03" x2="296.80" y2="352.03" stroke="#4a4a4a" stroke-width="0.8" />
<line x1="331.30" y1="329.64" x2="331.30" y2="338.64" stroke="#4a4a4a" stroke-width="0.8" />
<line x1="329.00" y1="329.64" x2="333.60" y2="329.64" stroke="#4a4a4a" stroke-width="0.8" />
<line x1="329.00" y1="338.64" x2="333.60" y2="338.64" stroke="#4a4a4a" stroke-width="0.8" />
<polyline points="183.50,391.34 220.60,390.68 257.70,385.18 294.50,305.10 331.30,320.50" fill="none" stroke="#141414" stroke-width="1.25" stroke-dasharray="1.7,1.0"/>
<polygon points="180.90,394.15 186.10,394.15 183.50,389.47" fill="#fff" stroke="#333" stroke-width="0.8"/>
<polygon points="218.00,393.49 223.20,393.49 220.60,388.81" fill="#fff" stroke="#333" stroke-width="0.8"/>
<polygon points="255.10,387.99 260.30,387.99 257.70,383.31" fill="#fff" stroke="#333" stroke-width="0.8"/>
<polygon points="291.90,307.91 297.10,307.91 294.50,303.23" fill="#fff" stroke="#333" stroke-width="0.8"/>
<polygon points="328.70,323.31 333.90,323.31 331.30,318.63" fill="#fff" stroke="#333" stroke-width="0.8"/>
<line x1="294.50" y1="285.80" x2="294.50" y2="324.40" stroke="#4a4a4a" stroke-width="0.8" />
<line x1="292.20" y1="285.80" x2="296.80" y2="285.80" stroke="#4a4a4a" stroke-width="0.8" />
<line x1="292.20" y1="324.40" x2="296.80" y2="324.40" stroke="#4a4a4a" stroke-width="0.8" />
<line x1="331.30" y1="305.90" x2="331.30" y2="335.10" stroke="#4a4a4a" stroke-width="0.8" />
<line x1="329.00" y1="305.90" x2="333.60" y2="305.90" stroke="#4a4a4a" stroke-width="0.8" />
<line x1="329.00" y1="335.10" x2="333.60" y2="335.10" stroke="#4a4a4a" stroke-width="0.8" />
<path d="M294.70,280.50L294.70,278.05M294.70,280.50L297.03,279.74M294.70,280.50L296.14,282.48M294.70,280.50L293.26,282.48M294.70,280.50L292.37,279.74" stroke="#222" stroke-width="1.0" stroke-linecap="round" fill="none"/>
<path d="M331.20,301.40L331.20,298.95M331.20,301.40L333.53,300.64M331.20,301.40L332.64,303.38M331.20,301.40L329.76,303.38M331.20,301.40L328.87,300.64" stroke="#222" stroke-width="1.0" stroke-linecap="round" fill="none"/>
<path d="M294.70,356.50L294.70,354.05M294.70,356.50L297.03,355.74M294.70,356.50L296.14,358.48M294.70,356.50L293.26,358.48M294.70,356.50L292.37,355.74" stroke="#222" stroke-width="1.0" stroke-linecap="round" fill="none"/>
<path d="M331.20,341.90L331.20,339.45M331.20,341.90L333.53,341.14M331.20,341.90L332.64,343.88M331.20,341.90L329.76,343.88M331.20,341.90L328.87,341.14" stroke="#222" stroke-width="1.0" stroke-linecap="round" fill="none"/>
<text x="401.50" y="238.70" font-size="19.5" text-anchor="start" font-weight="bold" fill="#111"  >E</text>
<line x1="457.40" y1="227.10" x2="470.00" y2="227.10" stroke="#777" stroke-width="0.8" />
<circle cx="463.70" cy="227.10" r="2.3" fill="none" stroke="#666" stroke-width="0.8"/>
<line x1="457.40" y1="240.00" x2="470.00" y2="240.00" stroke="#141414" stroke-width="1.1" stroke-dasharray="2.2,1.3"/>
<polygon points="461.40,242.48 466.00,242.48 463.70,238.34" fill="none" stroke="#555" stroke-width="0.8"/>
<text x="477.20" y="229.50" font-size="9.8" text-anchor="start" font-weight="normal" fill="#303030" stroke="#303030" stroke-width="0.12" ><tspan font-style="italic">ΔSLC30A10</tspan> + Scramble shRNA</text>
<text x="477.20" y="242.60" font-size="9.8" text-anchor="start" font-weight="normal" fill="#303030" stroke="#303030" stroke-width="0.12" ><tspan font-style="italic">ΔSLC30A10</tspan> + NR4A1 shRNA</text>
<line x1="436.50" y1="270.00" x2="436.50" y2="398.00" stroke="#828282" stroke-width="1" />
<line x1="431.90" y1="397.50" x2="620.90" y2="397.50" stroke="#828282" stroke-width="1" />
<line x1="431.90" y1="397.50" x2="436.50" y2="397.50" stroke="#828282" stroke-width="1" />
<text transform="translate(429.70,401.10) scale(0.88,1)" font-size="10.8" text-anchor="end" font-weight="normal" fill="#0c0c0c" stroke="#0c0c0c" stroke-width="0.12" >0</text>
<line x1="431.90" y1="355.00" x2="436.50" y2="355.00" stroke="#828282" stroke-width="1" />
<text transform="translate(429.70,358.60) scale(0.88,1)" font-size="10.8" text-anchor="end" font-weight="normal" fill="#0c0c0c" stroke="#0c0c0c" stroke-width="0.12" >50</text>
<line x1="431.90" y1="312.50" x2="436.50" y2="312.50" stroke="#828282" stroke-width="1" />
<text transform="translate(429.70,316.10) scale(0.88,1)" font-size="10.8" text-anchor="end" font-weight="normal" fill="#0c0c0c" stroke="#0c0c0c" stroke-width="0.12" >100</text>
<line x1="431.90" y1="270.00" x2="436.50" y2="270.00" stroke="#828282" stroke-width="1" />
<text transform="translate(429.70,273.60) scale(0.88,1)" font-size="10.8" text-anchor="end" font-weight="normal" fill="#0c0c0c" stroke="#0c0c0c" stroke-width="0.12" >150</text>
<line x1="464.80" y1="397.50" x2="464.80" y2="402.60" stroke="#828282" stroke-width="1" />
<text transform="translate(464.80,411.50) scale(0.88,1)" font-size="10.8" text-anchor="middle" font-weight="normal" fill="#0c0c0c" stroke="#0c0c0c" stroke-width="0.12" >0</text>
<line x1="507.20" y1="397.50" x2="507.20" y2="402.60" stroke="#828282" stroke-width="1" />
<text transform="translate(507.20,411.50) scale(0.88,1)" font-size="10.8" text-anchor="middle" font-weight="normal" fill="#0c0c0c" stroke="#0c0c0c" stroke-width="0.12" >0.5</text>
<line x1="549.70" y1="397.50" x2="549.70" y2="402.60" stroke="#828282" stroke-width="1" />
<text transform="translate(549.70,411.50) scale(0.88,1)" font-size="10.8" text-anchor="middle" font-weight="normal" fill="#0c0c0c" stroke="#0c0c0c" stroke-width="0.12" >1</text>
<line x1="592.20" y1="397.50" x2="592.20" y2="402.60" stroke="#828282" stroke-width="1" />
<text transform="translate(592.20,411.50) scale(0.88,1)" font-size="10.8" text-anchor="middle" font-weight="normal" fill="#0c0c0c" stroke="#0c0c0c" stroke-width="0.12" >2</text>
<text transform="translate(408.80,333.40) rotate(-90)" font-size="12.3" text-anchor="middle" fill="#0c0c0c" stroke="#0c0c0c" stroke-width="0.12">Percent Viability</text>
<text x="528.60" y="425.50" font-size="12.2" text-anchor="middle" font-weight="normal" fill="#0c0c0c" stroke="#0c0c0c" stroke-width="0.12" >mM Mn</text>
<polyline points="464.80,312.50 507.20,363.84 549.70,369.45 592.20,384.75" fill="none" stroke="#5a5a5a" stroke-width="0.8" />
<circle cx="464.80" cy="312.50" r="2.7" fill="#fff" stroke="#444" stroke-width="0.8"/>
<circle cx="507.20" cy="363.84" r="2.7" fill="#fff" stroke="#444" stroke-width="0.8"/>
<circle cx="549.70" cy="369.45" r="2.7" fill="#fff" stroke="#444" stroke-width="0.8"/>
<circle cx="592.20" cy="384.75" r="2.7" fill="#fff" stroke="#444" stroke-width="0.8"/>
<line x1="464.80" y1="298.00" x2="464.80" y2="327.00" stroke="#4a4a4a" stroke-width="0.8" />
<line x1="462.50" y1="298.00" x2="467.10" y2="298.00" stroke="#4a4a4a" stroke-width="0.8" />
<line x1="462.50" y1="327.00" x2="467.10" y2="327.00" stroke="#4a4a4a" stroke-width="0.8" />
<line x1="549.70" y1="359.15" x2="549.70" y2="379.75" stroke="#4a4a4a" stroke-width="0.8" />
<line x1="547.40" y1="359.15" x2="552.00" y2="359.15" stroke="#4a4a4a" stroke-width="0.8" />
<line x1="547.40" y1="379.75" x2="552.00" y2="379.75" stroke="#4a4a4a" stroke-width="0.8" />
<line x1="592.20" y1="383.75" x2="592.20" y2="385.75" stroke="#4a4a4a" stroke-width="0.8" />
<line x1="589.90" y1="383.75" x2="594.50" y2="383.75" stroke="#4a4a4a" stroke-width="0.8" />
<line x1="589.90" y1="385.75" x2="594.50" y2="385.75" stroke="#4a4a4a" stroke-width="0.8" />
<polyline points="464.80,312.50 507.20,357.81 549.70,378.63 592.20,389.51" fill="none" stroke="#141414" stroke-width="1.25" stroke-dasharray="1.7,1.0"/>
<polygon points="462.20,315.31 467.40,315.31 464.80,310.63" fill="#fff" stroke="#333" stroke-width="0.8"/>
<polygon points="504.60,360.61 509.80,360.61 507.20,355.93" fill="#fff" stroke="#333" stroke-width="0.8"/>
<polygon points="547.10,381.44 552.30,381.44 549.70,376.76" fill="#fff" stroke="#333" stroke-width="0.8"/>
<polygon points="589.60,392.32 594.80,392.32 592.20,387.64" fill="#fff" stroke="#333" stroke-width="0.8"/>
<line x1="507.20" y1="351.31" x2="507.20" y2="364.31" stroke="#4a4a4a" stroke-width="0.8" />
<line x1="504.90" y1="351.31" x2="509.50" y2="351.31" stroke="#4a4a4a" stroke-width="0.8" />
<line x1="504.90" y1="364.31" x2="509.50" y2="364.31" stroke="#4a4a4a" stroke-width="0.8" />
<line x1="549.70" y1="376.03" x2="549.70" y2="381.23" stroke="#4a4a4a" stroke-width="0.8" />
<line x1="547.40" y1="376.03" x2="552.00" y2="376.03" stroke="#4a4a4a" stroke-width="0.8" />
<line x1="547.40" y1="381.23" x2="552.00" y2="381.23" stroke="#4a4a4a" stroke-width="0.8" />
<line x1="592.20" y1="387.11" x2="592.20" y2="391.91" stroke="#4a4a4a" stroke-width="0.8" />
<line x1="589.90" y1="387.11" x2="594.50" y2="387.11" stroke="#4a4a4a" stroke-width="0.8" />
<line x1="589.90" y1="391.91" x2="594.50" y2="391.91" stroke="#4a4a4a" stroke-width="0.8" />
</g></svg></body></html>
